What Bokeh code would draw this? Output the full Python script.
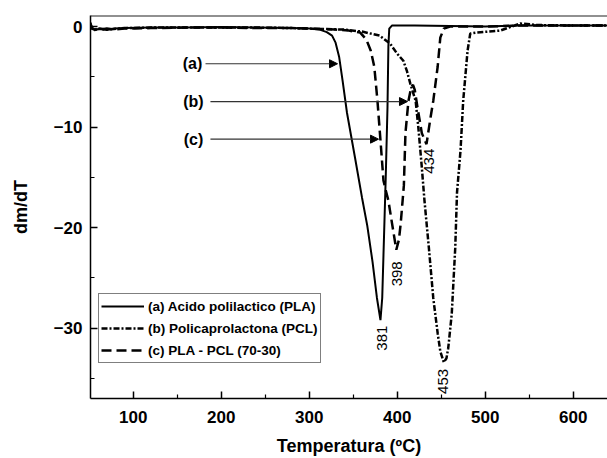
import math
from bokeh.plotting import figure
from bokeh.models import (Range1d, FixedTicker, Span, Arrow, NormalHead,
                          ColumnDataSource, Legend)
from bokeh.core.properties import value
from bokeh.embed import file_html
from bokeh.resources import INLINE

FONT = "Liberation Sans"

# ---------------- data ----------------
X_MIN, X_MAX = 51.5, 639.0
Y_MIN, Y_MAX = -37.0, 1.1

# (a) Acido polilactico (PLA) - solid
a_T = [51.5, 53, 56, 62, 70, 78, 90, 120, 160, 200, 240, 280, 300, 312, 320, 326,
       330, 334, 338, 343, 352, 360, 366, 372, 377, 381, 383, 385, 387, 389, 390,
       391, 394, 420, 460, 500, 540, 580, 639]
a_V = [0.4, -0.1, -0.3, -0.25, -0.35, -0.2, -0.15, -0.1, -0.1, -0.05, -0.1, -0.15,
       -0.2, -0.3, -0.55, -0.9, -1.6, -3.0, -5.4, -8.6, -13.0, -17.0, -19.8, -23.4,
       -27.0, -29.2, -27.0, -21.0, -15.0, -8.0, -2.0, -0.2, 0.1, 0.1, 0.05, 0.0,
       0.1, 0.1, 0.1]

# (b) Policaprolactona (PCL) - dash-dot
b_T = [51.5, 53, 56, 62, 70, 78, 90, 120, 160, 200, 240, 280, 300, 320, 340, 360,
       380, 392, 400, 407, 411, 415, 421, 424, 428, 431, 436, 441, 446, 449, 453,
       456, 458, 462, 466, 468, 472, 475, 480, 483, 490, 517, 530, 540, 560, 600, 639]
b_V = [0.3, -0.15, -0.35, -0.2, -0.3, -0.25, -0.15, -0.1, -0.1, -0.1, -0.1, -0.15,
       -0.2, -0.25, -0.3, -0.5, -0.9, -1.7, -2.7, -3.4, -4.4, -5.7, -7.4, -10.0,
       -14.0, -17.3, -22.0, -27.0, -30.5, -32.3, -33.4, -33.0, -32.0, -28.6, -22.0,
       -16.5, -12.3, -7.4, -2.4, -0.7, -0.6, -0.4, 0.0, 0.3, 0.15, 0.1, 0.1]

# (c) PLA - PCL (70-30) - dashed
c_T = [51.5, 53, 56, 62, 70, 78, 90, 120, 160, 200, 240, 280, 300, 330, 345, 358,
       365, 370, 374, 377.6, 381, 384.4, 387, 390, 394, 399, 402, 404, 407.6, 409.4,
       412.8, 416, 418, 420, 423, 428, 433.3, 438, 441, 446, 449, 453, 460, 500,
       540, 580, 639]
c_V = [0.2, -0.2, -0.3, -0.3, -0.2, -0.3, -0.2, -0.15, -0.1, -0.1, -0.15, -0.15,
       -0.2, -0.3, -0.4, -0.6, -1.3, -2.4, -4.0, -7.4, -11.3, -15.3, -16.3, -17.3,
       -19.5, -22.2, -21.2, -19.6, -15.8, -10.6, -7.4, -6.0, -5.8, -6.3, -8.0,
       -10.6, -11.7, -9.0, -7.4, -4.0, -1.1, -0.2, 0.0, 0.0, 0.1, 0.1, 0.1]

SERIES_NAMES = ["(a) Acido polilactico (PLA)", "(b) Policaprolactona (PCL)",
                "(c) PLA - PCL (70-30)"]

# peak labels
PEAK_TEXT = ["381", "398", "434", "453"]
PEAK_LABEL_X = [382.3, 400.3, 435.6, 452.6]
PEAK_LABEL_Y = [-31.0, -24.6, -13.4, -35.3]

# curve pointer labels
PTR_TEXT = ["(a)", "(b)", "(c)"]
PTR_TEXT_X = [167.4, 168.5, 168.5]
PTR_Y = [-3.7, -7.46, -11.2]
PTR_START_X = [182.2, 187.8, 187.8]
PTR_END_X = [332.2, 411.7, 378.8]

X_TICKS = [100, 200, 300, 400, 500, 600]
X_MINOR = [50, 150, 250, 350, 450, 550, 650]
Y_TICKS = [0, -10, -20, -30]
Y_MINOR = [-5, -15, -25, -35]

# ---------------- figure ----------------
p = figure(width=607, height=458, output_backend="svg", toolbar_location=None,
           x_range=Range1d(X_MIN, X_MAX), y_range=Range1d(Y_MIN, Y_MAX),
           min_border_left=90, min_border_right=0, min_border_top=15,
           min_border_bottom=60)
p.grid.visible = False
p.outline_line_color = None
p.background_fill_color = "white"
p.border_fill_color = "white"

top_line = Span(location=Y_MAX, dimension="width", line_color="#222222", line_width=2)
p.add_layout(top_line)

r_a = p.line(a_T, a_V, line_color="black", line_width=2)
r_b = p.line(b_T, b_V, line_color="black", line_width=2.5, line_dash="6 2 2 2")
r_c = p.line(c_T, c_V, line_color="black", line_width=2.5, line_dash="10 5")

# axes
p.xaxis.ticker = FixedTicker(ticks=X_TICKS, minor_ticks=X_MINOR)
p.yaxis.ticker = FixedTicker(ticks=Y_TICKS, minor_ticks=Y_MINOR)
for ax in (p.xaxis[0], p.yaxis[0]):
    ax.axis_line_width = 1.5
    ax.axis_line_color = "black"
    ax.major_tick_in = 7
    ax.major_tick_out = 0
    ax.minor_tick_in = 4
    ax.minor_tick_out = 0
    ax.major_tick_line_width = 1.5
    ax.minor_tick_line_width = 1.2
    ax.major_tick_line_color = "black"
    ax.minor_tick_line_color = "black"
    ax.major_label_text_font = FONT
    ax.major_label_text_font_size = "17px"
    ax.major_label_text_font_style = "bold"
    ax.major_label_text_color = "black"
    ax.axis_label_text_font = FONT
    ax.axis_label_text_font_size = "18px"
    ax.axis_label_text_font_style = "bold"
    ax.axis_label_text_color = "black"

p.xaxis.axis_label = "Temperatura (ºC)"
p.yaxis.axis_label = "dm/dT"
p.xaxis.major_label_standoff = 12
p.xaxis.axis_label_standoff = 10
p.yaxis.major_label_standoff = 8
p.yaxis.axis_label_standoff = 20

# legend
legend = Legend(items=[(SERIES_NAMES[0], [r_a]), (SERIES_NAMES[1], [r_b]),
                       (SERIES_NAMES[2], [r_c])],
                location=(8, 35))
legend.border_line_color = "black"
legend.border_line_width = 1
legend.background_fill_color = "white"
legend.background_fill_alpha = 1
legend.label_text_font = FONT
legend.label_text_font_size = "13.5px"
legend.label_text_font_style = "bold"
legend.label_text_color = "black"
legend.glyph_width = 43
legend.glyph_height = 20
legend.label_height = 20
legend.label_standoff = 4
legend.spacing = 2
legend.padding = 2
legend.margin = 0
p.add_layout(legend, "center")

# peak labels
peak_src = ColumnDataSource(dict(x=PEAK_LABEL_X, y=PEAK_LABEL_Y, t=PEAK_TEXT))
p.text(x="x", y="y", text="t", source=peak_src, angle=math.pi / 2,
       text_align="center", text_baseline="middle", text_font=value(FONT),
       text_font_size="15px", text_color="black")

# pointer labels and arrows
ptr_src = ColumnDataSource(dict(x=PTR_TEXT_X, y=PTR_Y, t=PTR_TEXT))
p.text(x="x", y="y", text="t", source=ptr_src, text_align="center",
       text_baseline="middle", text_font=value(FONT), text_font_size="16px",
       text_font_style="bold", text_color="black")
for xs, xe, yy in zip(PTR_START_X, PTR_END_X, PTR_Y):
    p.add_layout(Arrow(end=NormalHead(size=8, fill_color="black", line_color="black",
                                      line_width=1),
                       x_start=xs, y_start=yy, x_end=xe, y_end=yy,
                       line_color="#333333", line_width=1.2))

open("out.html", "w").write(file_html(p, INLINE))
